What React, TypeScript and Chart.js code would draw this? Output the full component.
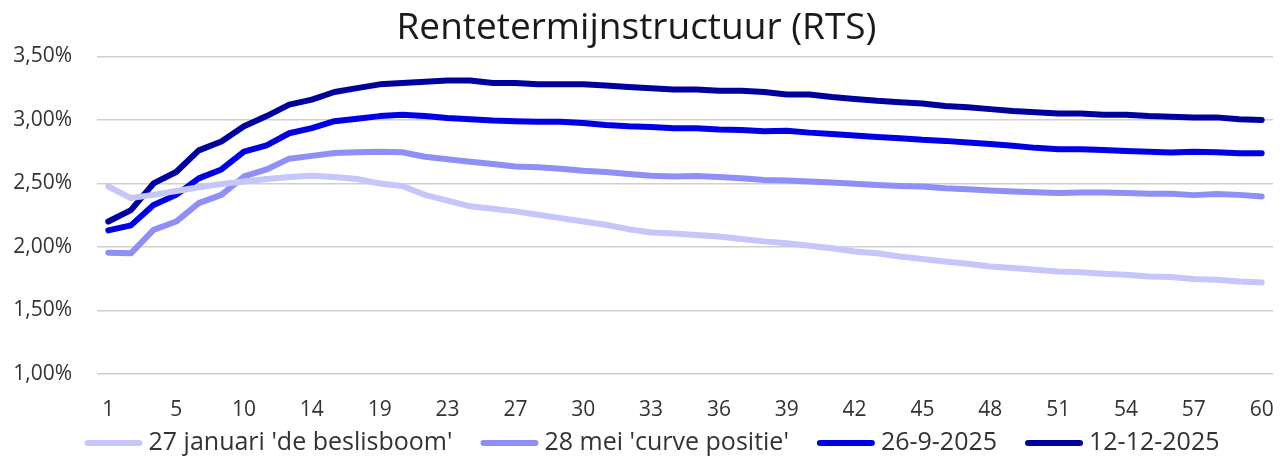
import React, { useEffect, useRef } from "react";
import { Chart, registerables } from "chart.js";

Chart.register(...registerables);

const categories: string[] = [
  "1", "2", "3", "5", "6", "8", "10", "11", "12", "14", "15", "17", "19",
  "20", "21", "23", "24", "25", "27", "28", "29", "30", "31", "32", "33",
  "34", "35", "36", "37", "38", "39", "40", "41", "42", "43", "44", "45",
  "46", "47", "48", "49", "50", "51", "52", "53", "54", "55", "56", "57",
  "58", "59", "60",
];

const seriesNames: string[] = [
  "27 januari 'de beslisboom'",
  "28 mei 'curve positie'",
  "26-9-2025",
  "12-12-2025",
];

const januari: number[] = [
  2.476, 2.385, 2.41, 2.44, 2.47, 2.495, 2.515, 2.535, 2.55, 2.56, 2.55, 2.535,
  2.5, 2.48, 2.41, 2.365, 2.32, 2.3, 2.28, 2.253, 2.227, 2.2, 2.175, 2.14,
  2.114, 2.105, 2.095, 2.083, 2.063, 2.044, 2.03, 2.01, 1.99, 1.965, 1.95,
  1.925, 1.905, 1.886, 1.868, 1.847, 1.834, 1.82, 1.807, 1.8, 1.79, 1.781,
  1.768, 1.763, 1.748, 1.742, 1.729, 1.72,
];

const mei: number[] = [
  1.955, 1.95, 2.135, 2.2, 2.345, 2.41, 2.555, 2.61, 2.695, 2.717, 2.74, 2.745,
  2.75, 2.745, 2.71, 2.69, 2.67, 2.653, 2.633, 2.628, 2.615, 2.6, 2.59, 2.575,
  2.56, 2.555, 2.558, 2.55, 2.54, 2.528, 2.523, 2.515, 2.507, 2.497, 2.487,
  2.48, 2.476, 2.463, 2.455, 2.444, 2.437, 2.43, 2.425, 2.428, 2.428, 2.424,
  2.418, 2.418, 2.408, 2.416, 2.41, 2.397,
];

const september: number[] = [
  2.13, 2.17, 2.33, 2.41, 2.54, 2.61, 2.75, 2.8, 2.895, 2.935, 2.99, 3.01,
  3.03, 3.04, 3.03, 3.015, 3.005, 2.995, 2.99, 2.985, 2.985, 2.975, 2.96,
  2.95, 2.945, 2.935, 2.935, 2.925, 2.92, 2.91, 2.915, 2.9, 2.89, 2.877,
  2.866, 2.856, 2.843, 2.835, 2.822, 2.81, 2.796, 2.78, 2.77, 2.77, 2.764,
  2.756, 2.75, 2.743, 2.75, 2.746, 2.738, 2.738,
];

const december: number[] = [
  2.2, 2.29, 2.5, 2.59, 2.76, 2.83, 2.95, 3.03, 3.12, 3.16, 3.22, 3.25, 3.28,
  3.29, 3.3, 3.31, 3.31, 3.29, 3.29, 3.28, 3.28, 3.28, 3.27, 3.26, 3.25, 3.24,
  3.24, 3.23, 3.23, 3.22, 3.2, 3.2, 3.18, 3.165, 3.15, 3.14, 3.13, 3.11, 3.1,
  3.085, 3.07, 3.06, 3.05, 3.05, 3.04, 3.04, 3.03, 3.025, 3.02, 3.02, 3.005,
  3.0,
];

const colors: string[] = ["#c6c6fb", "#8f8ff6", "#0000e6", "#00009e"];

const FONT = "'Open Sans', Lato, sans-serif";
const TEXT = "#333333";

const bottomLegend = {
  id: "bottomLegend",
  afterDraw(chart: any) {
    const ctx = chart.ctx as CanvasRenderingContext2D;
    const fontSize = 25;
    const sampleW = 58;
    const gap = 6;
    const itemGap = 28;
    const y = 443;
    ctx.save();
    ctx.font = `${fontSize}px ${FONT}`;
    const widths = seriesNames.map((t) => ctx.measureText(t).width);
    const total =
      widths.reduce((a, b) => a + b, 0) +
      seriesNames.length * (sampleW + gap) +
      (seriesNames.length - 1) * itemGap;
    let x = (chart.width - total) / 2 + 9;
    ctx.textBaseline = "middle";
    ctx.textAlign = "left";
    seriesNames.forEach((name, i) => {
      ctx.strokeStyle = colors[i];
      ctx.lineWidth = 6;
      ctx.lineCap = "round";
      ctx.beginPath();
      ctx.moveTo(x + 3, y);
      ctx.lineTo(x + sampleW - 3, y);
      ctx.stroke();
      ctx.fillStyle = TEXT;
      ctx.fillText(name, x + sampleW + gap, y);
      x += sampleW + gap + widths[i] + itemGap;
    });
    ctx.restore();
  },
};

export default function App() {
  const ref = useRef<HTMLCanvasElement | null>(null);

  useEffect(() => {
    document.body.style.margin = "0";
    document.body.style.background = "#ffffff";
    const canvas = ref.current;
    if (!canvas) return;
    const values = [januari, mei, september, december];
    const chart = new Chart(canvas, {
      type: "line",
      data: {
        labels: categories,
        datasets: values.map((v, i) => ({
          label: seriesNames[i],
          data: v,
          borderColor: colors[i],
          backgroundColor: colors[i],
          borderWidth: 6,
          pointRadius: 0,
          pointHoverRadius: 0,
          tension: 0,
          borderCapStyle: "round" as const,
          borderJoinStyle: "round" as const,
          fill: false,
        })),
      },
      plugins: [bottomLegend],
      options: {
        animation: false,
        responsive: false,
        maintainAspectRatio: false,
        layout: { padding: { left: 0, right: 13, top: 0, bottom: 37 } },
        plugins: {
          title: {
            display: true,
            text: "Rentetermijnstructuur (RTS)",
            color: "#1a1a1a",
            font: { family: FONT, size: 37, weight: "normal", lineHeight: 1.2 },
            padding: { top: 6, bottom: 6 },
          },
          legend: { display: false },
          tooltip: { enabled: false },
        },
        scales: {
          x: {
            type: "category",
            offset: true,
            afterFit: (scale: any) => {
              scale.height = 48;
            },
            grid: { display: false, drawTicks: false },
            border: { display: false },
            ticks: {
              autoSkip: false,
              maxRotation: 0,
              minRotation: 0,
              color: TEXT,
              padding: 4,
              font: { family: FONT, size: 21, lineHeight: 3.05 },
              callback: (_v: any, idx: number) =>
                idx % 3 === 0 ? categories[idx] : "",
            },
          },
          y: {
            min: 1.0,
            max: 3.5,
            afterFit: (scale: any) => {
              scale.width = 97;
            },
            grid: { color: "#d0d0d0", lineWidth: 1.5, drawTicks: false },
            border: { display: false },
            ticks: {
              stepSize: 0.5,
              color: TEXT,
              padding: 25,
              font: { family: FONT, size: 21 },
              callback: (v: any) => Number(v).toFixed(2).replace(".", ",") + "%",
            },
          },
        },
      },
    });
    return () => chart.destroy();
  }, []);

  return (
    <div style={{ width: 1286, height: 459, background: "#ffffff" }}>
      <canvas ref={ref} width={1286} height={459} style={{ display: "block" }} />
    </div>
  );
}
